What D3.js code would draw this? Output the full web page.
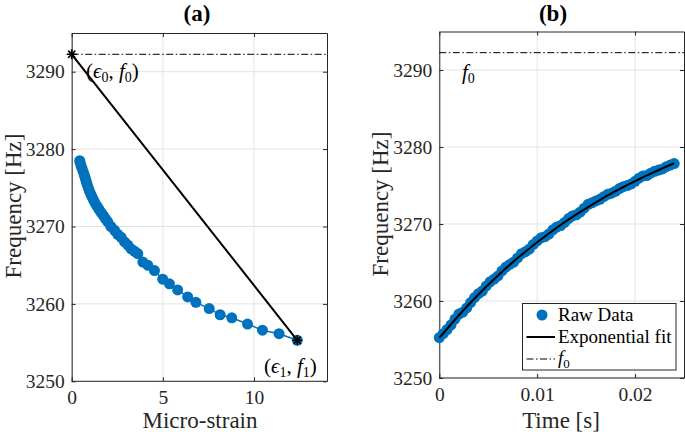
<!DOCTYPE html>
<html>
<head>
<meta charset="utf-8">
<script src="https://cdn.jsdelivr.net/npm/d3@7"></script>
<style>
  html, body { margin: 0; padding: 0; background: #fff; }
  svg { display: block; }
  svg text { font-family: "Liberation Serif", "Times New Roman", serif !important; }
</style>
</head>
<body>
<svg id="chart" width="685" height="432"></svg>
<script>
// ---------------- DATA ----------------
// Panel (a): micro-strain vs frequency
const strainA = [0.44,0.47,0.52,0.58,0.64,0.70,0.75,0.80,0.85,0.91,0.97,1.04,1.12,1.20,1.29,1.40,1.50,1.62,1.74,1.85,1.98,2.15,2.35,2.52,2.71,2.90,3.08,3.26,3.45,3.62,3.90,4.17,4.54,4.99,5.36,5.81,6.36,6.81,7.54,8.14,8.78,9.64,10.46,11.37,12.37];
const freqA   = [3278.5,3278.2,3277.8,3277.4,3277.0,3276.6,3276.2,3275.8,3275.4,3275.0,3274.6,3274.2,3273.8,3273.4,3273.0,3272.6,3272.2,3271.8,3271.4,3271.0,3270.6,3270.0,3269.5,3269.0,3268.6,3268.0,3267.6,3267.1,3266.8,3266.5,3265.4,3265.0,3264.3,3263.2,3262.6,3261.8,3260.9,3260.2,3259.4,3258.6,3258.2,3257.4,3256.6,3256.15,3255.3];
const f0 = 3292.25;
const endpointsStrain = [0, 12.37];
const endpointsFreq   = [3292.25, 3255.3];

// Panel (b): time vs frequency
const timeB = [0,0.0004,0.0008,0.0012,0.0016,0.002,0.0024,0.0028,0.0032,0.0036,0.004,0.0044,0.0048,0.0052,0.0056,0.006,0.0064,0.0068,0.0072,0.0076,0.008,0.0084,0.0088,0.0092,0.0096,0.01,0.0104,0.0108,0.0112,0.0116,0.012,0.0124,0.0128,0.0132,0.0136,0.014,0.0144,0.0148,0.0152,0.0156,0.016,0.0164,0.0168,0.0172,0.0176,0.018,0.0184,0.0188,0.0192,0.0196,0.02,0.0204,0.0208,0.0212,0.0216,0.022,0.0224,0.0228,0.0232,0.0236,0.024];
const freqB = [3255.25,3255.75,3256.30,3256.90,3257.65,3258.30,3258.55,3259.10,3259.80,3260.45,3260.95,3261.30,3261.95,3262.50,3262.85,3263.25,3263.90,3264.40,3264.75,3265.05,3265.60,3266.15,3266.40,3266.75,3267.35,3267.80,3268.20,3268.35,3268.70,3269.25,3269.60,3269.80,3270.20,3270.70,3271.05,3271.20,3271.55,3272.05,3272.55,3272.75,3273.00,3273.20,3273.55,3273.85,3274.00,3274.25,3274.60,3274.85,3275.00,3275.20,3275.55,3275.95,3276.25,3276.30,3276.60,3276.85,3277.00,3277.15,3277.45,3277.65,3277.85];
const fitTime = [0,0.002,0.004,0.006,0.008,0.01,0.012,0.014,0.016,0.018,0.02,0.022,0.024];
const fitFreq = [3255.20,3258.15,3260.85,3263.31,3265.57,3267.63,3269.52,3271.24,3272.82,3274.26,3275.58,3276.78,3277.89];

const yTicks = [3250,3260,3270,3280,3290];
const xTicksA = [0,5,10];
const xTicksB = [0,0.01,0.02];
const xTickLabelsB = ["0","0.01","0.02"];
const legendLabels = ["Raw Data","Exponential fit"];

// ---------------- DRAW ----------------
const svg = d3.select("#chart");
const blue = "#0072BD";
const axisCol = "#262626";
const gridCol = "#e3e3e3";
const SERIF = "Liberation Serif";

function panel(cfg) {
  const x = d3.scaleLinear().domain(cfg.xDomain).range(cfg.xRange);
  const y = d3.scaleLinear().domain([3250, 3295]).range(cfg.yRange);
  const g = svg.append("g");
  const [x0, x1] = cfg.xRange, [y0, y1] = cfg.yRange;

  // grid
  g.append("g").selectAll("line").data(cfg.xTicks).join("line")
    .attr("x1", d => x(d)).attr("x2", d => x(d)).attr("y1", y0).attr("y2", y1)
    .attr("stroke", gridCol).attr("stroke-width", 1);
  g.append("g").selectAll("line").data(yTicks).join("line")
    .attr("y1", d => y(d)).attr("y2", d => y(d)).attr("x1", x0).attr("x2", x1)
    .attr("stroke", gridCol).attr("stroke-width", 1);

  // axes (box with inward ticks)
  const tk = 4;
  const bottom = g.append("g").attr("transform", `translate(0,${y0})`)
    .call(d3.axisBottom(x).tickValues(cfg.xTicks).tickFormat((d,i) => cfg.xLabels[i]).tickSizeInner(-tk).tickSizeOuter(0).tickPadding(9));
  const top = g.append("g").attr("transform", `translate(0,${y1})`)
    .call(d3.axisTop(x).tickValues(cfg.xTicks).tickFormat("").tickSizeInner(-tk).tickSizeOuter(0));
  const left = g.append("g").attr("transform", `translate(${x0},0)`)
    .call(d3.axisLeft(y).tickValues(yTicks).tickFormat(d3.format("d")).tickSizeInner(-tk).tickSizeOuter(0).tickPadding(7));
  const right = g.append("g").attr("transform", `translate(${x1},0)`)
    .call(d3.axisRight(y).tickValues(yTicks).tickFormat("").tickSizeInner(-tk).tickSizeOuter(0));
  [bottom, top, left, right].forEach(a => {
    a.attr("font-family", SERIF);
    a.selectAll("path").attr("stroke", axisCol).attr("stroke-width", 1);
    a.selectAll("line").attr("stroke", axisCol).attr("stroke-width", 1);
    a.selectAll("text").attr("font-size", 19.5).attr("fill", axisCol);
  });
  bottom.select("path.domain").attr("d", `M${x0},0H${x1}`);

  // f0 dash-dot line
  g.append("line").attr("x1", x0).attr("x2", x1).attr("y1", y(f0)).attr("y2", y(f0))
    .attr("stroke", "#000").attr("stroke-width", 1).attr("stroke-dasharray", "7,2.5,1.5,2.5");

  // titles
  svg.append("text").attr("x", cfg.titleX).attr("y", 21).attr("text-anchor", "middle")
    .attr("font-size", 23).attr("font-weight", "bold").attr("fill", "#000").text(cfg.title);
  svg.append("text").attr("x", cfg.xLabelX).attr("y", 428).attr("text-anchor", "middle")
    .attr("font-size", 23).attr("fill", axisCol).text(cfg.xLabel);
  svg.append("text").attr("transform", `translate(${cfg.yLabelX},${cfg.yLabelY}) rotate(-90)`)
    .attr("text-anchor", "middle").attr("font-size", 23).attr("fill", axisCol).text("Frequency [Hz]");
  return {x, y, g};
}

function subLabel(sel, x, y, greek, sub1, sub2) {
  const t = sel.append("text").attr("x", x).attr("y", y).attr("font-size", 21).attr("fill", "#000");
  t.append("tspan").text("(");
  t.append("tspan").attr("font-style", "italic").text(greek);
  t.append("tspan").attr("font-size", 14).attr("dy", 4).text(sub1);
  t.append("tspan").attr("dy", -4).text(", ");
  t.append("tspan").attr("font-style", "italic").text("f");
  t.append("tspan").attr("font-size", 14).attr("dy", 4).text(sub2);
  t.append("tspan").attr("dy", -4).text(")");
  return t;
}

function asterisk(g, cx, cy, s) {
  const p = d3.path();
  p.moveTo(cx - s, cy); p.lineTo(cx + s, cy);
  p.moveTo(cx, cy - s); p.lineTo(cx, cy + s);
  const d = s * 0.72;
  p.moveTo(cx - d, cy - d); p.lineTo(cx + d, cy + d);
  p.moveTo(cx - d, cy + d); p.lineTo(cx + d, cy - d);
  g.append("path").attr("d", p.toString()).attr("stroke", "#000").attr("stroke-width", 1.6).attr("fill", "none");
}

// ---- Panel (a)
const A = panel({
  xDomain: [0, 14], xRange: [71.7, 327], yRange: [381.3, 33],
  xTicks: xTicksA, xLabels: xTicksA.map(String),
  title: "(a)", titleX: 197, xLabel: "Micro-strain", xLabelX: 200, yLabelX: 21, yLabelY: 206
});
A.g.append("path").datum(strainA.map((s, i) => [s, freqA[i]]))
  .attr("d", d3.line().x(d => A.x(d[0])).y(d => A.y(d[1])))
  .attr("fill", "none").attr("stroke", blue).attr("stroke-width", 1.5);
A.g.append("g").selectAll("circle").data(strainA).join("circle")
  .attr("cx", d => A.x(d)).attr("cy", (d, i) => A.y(freqA[i])).attr("r", 5.5)
  .attr("fill", blue);
A.g.append("line")
  .attr("x1", A.x(endpointsStrain[0])).attr("y1", A.y(endpointsFreq[0]))
  .attr("x2", A.x(endpointsStrain[1])).attr("y2", A.y(endpointsFreq[1]))
  .attr("stroke", "#000").attr("stroke-width", 2);
endpointsStrain.forEach((s, i) => asterisk(A.g, A.x(s), A.y(endpointsFreq[i]), 5));
subLabel(svg, 86, 78, "\u03F5", "0", "0");
subLabel(svg, 264, 373, "\u03F5", "1", "1");

// ---- Panel (b)
const B = panel({
  xDomain: [0, 0.025], xRange: [439.3, 684], yRange: [378, 31.5],
  xTicks: xTicksB, xLabels: xTickLabelsB,
  title: "(b)", titleX: 553, xLabel: "Time [s]", xLabelX: 561, yLabelX: 388, yLabelY: 204
});
B.g.append("g").selectAll("circle").data(timeB).join("circle")
  .attr("cx", d => B.x(d)).attr("cy", (d, i) => B.y(freqB[i])).attr("r", 5.5)
  .attr("fill", blue);
B.g.append("path").datum(fitTime.map((t, i) => [t, fitFreq[i]]))
  .attr("d", d3.line().curve(d3.curveNatural).x(d => B.x(d[0])).y(d => B.y(d[1])))
  .attr("fill", "none").attr("stroke", "#000").attr("stroke-width", 2);
const f0b = svg.append("text").attr("x", 462).attr("y", 79).attr("font-size", 21).attr("fill", "#000");
f0b.append("tspan").attr("font-style", "italic").text("f");
f0b.append("tspan").attr("font-size", 14).attr("dy", 4).text("0");

// legend
const lg = svg.append("g");
lg.append("rect").attr("x", 522.5).attr("y", 303.5).attr("width", 153.5).attr("height", 66.5)
  .attr("fill", "#fff").attr("stroke", axisCol).attr("stroke-width", 1);
lg.append("circle").attr("cx", 542).attr("cy", 315).attr("r", 5.5).attr("fill", blue);
lg.append("line").attr("x1", 526.5).attr("x2", 555).attr("y1", 337).attr("y2", 337).attr("stroke", "#000").attr("stroke-width", 2);
lg.append("line").attr("x1", 526.5).attr("x2", 555).attr("y1", 359).attr("y2", 359).attr("stroke", "#000").attr("stroke-width", 1).attr("stroke-dasharray", "7,2.5,1.5,2.5");
lg.append("text").attr("x", 558).attr("y", 321).attr("font-size", 19).attr("fill", "#000").text(legendLabels[0]);
lg.append("text").attr("x", 558).attr("y", 343).attr("font-size", 19).attr("fill", "#000").text(legendLabels[1]);
const lf = lg.append("text").attr("x", 558).attr("y", 364).attr("font-size", 19).attr("fill", "#000");
lf.append("tspan").attr("font-style", "italic").text("f");
lf.append("tspan").attr("font-size", 13).attr("dy", 4).text("0");
</script>
</body>
</html>
